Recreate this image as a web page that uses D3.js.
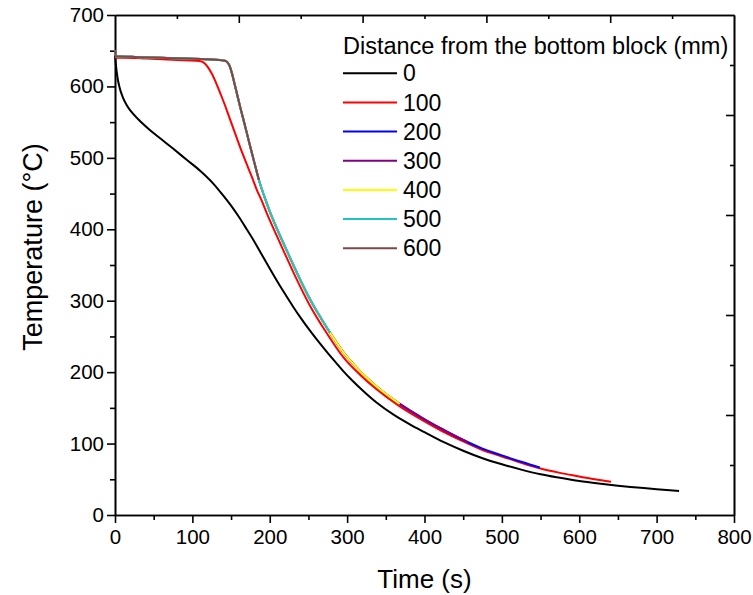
<!DOCTYPE html>
<meta charset="utf-8">
<style>
body { margin: 0; background: #fff; }
svg { font-family: "Liberation Sans", Arial, sans-serif; }
.axis path, .axis line { stroke: #000; stroke-width: 1.6px; }
.axis text { font-size: 20.5px; fill: #000; }
</style>
<svg width="753" height="595"></svg>
<script src="https://d3js.org/d3.v7.min.js"></script>
<script>

// tick labels
var xTicks = [0, 100, 200, 300, 400, 500, 600, 700, 800];
var yTicks = [0, 100, 200, 300, 400, 500, 600, 700];

// series: distance from bottom block (mm)
var seriesNames = ["0", "100", "200", "300", "400", "500", "600"];

// [time (s), temperature (°C)]
var d0 = [[0,645],[1,632],[3,614],[6,598],[10,585],[15,574],[20,566],[30,554],[45,539],[60,526],[75,513],[93,497],[110,482],[127,464],[140,447],[150,433],[160,417.5],[170,400.5],[180,383],[190,364],[200,345],[210,326.5],[220,309],[230,292],[240,276],[252,258],[262,244],[274,228],[285,214],[295,201.5],[306,189],[317,177.5],[338,157.5],[360,140.5],[381,127],[400,116],[425,102],[450,90],[475,79.5],[500,71],[525,63.5],[550,57],[575,52],[600,47.5],[625,44],[650,41],[675,38.5],[700,36],[729,33.5]];

var d100 = [[0,650],[1,640],[10,640],[40,639],[80,637],[105,636],[112,635],[116,632],[120,627],[125,618],[131,604],[137,588],[142,574],[148,556],[155,535],[162,514],[170,492],[177,473],[183,456],[190,439],[196,423],[209,391],[222,360],[233,334],[252,293],[274,254],[295,221],[317,196],[338,176],[368,152],[400,131],[425,116],[450,103],[475,91],[500,82],[525,73],[550,65],[575,59],[600,54],[620,50],[641,46.5]];

var d200 = [[0,650],[1,642],[5,642],[30,641],[60,640],[90,639],[120,638],[142,636],[145,634],[148,629],[151,619],[154,606],[158,588],[163,566],[168,545],[174,519],[180,494],[186,469],[193,446],[200,425],[210,399],[220,375],[230,351],[240,328],[252,302],[262,283],[278,255],[295,228],[317,201],[338,180],[368,155.5],[400,134],[425,119],[450,105],[475,93],[500,83.5],[525,74.5],[549,66.5]];

var d300 = [[0,650],[1,642],[5,642],[30,641],[60,640],[90,639],[120,638],[142,636],[145,634],[148,629],[151,619],[154,606],[158,588],[163,566],[168,545],[174,519],[180,494],[186,469],[193,446],[200,425],[210,399],[220,375],[230,351],[240,328],[252,302],[262,283],[278,255],[295,228],[317,201],[338,180],[368,155.5],[400,134],[425,119],[456,102]];

var d400 = [[0,650],[1,642],[5,642],[30,641],[60,640],[90,639],[120,638],[142,636],[145,634],[148,629],[151,619],[154,606],[158,588],[163,566],[168,545],[174,519],[180,494],[186,469],[193,446],[200,425],[210,399],[220,375],[230,351],[240,328],[252,302],[262,283],[278,255],[295,228],[317,201],[338,180],[368,155.5]];

var d500 = [[0,650],[1,642],[5,642],[30,641],[60,640],[90,639],[120,638],[142,636],[145,634],[148,629],[151,619],[154,606],[158,588],[163,566],[168,545],[174,519],[180,494],[186,469],[193,446],[200,425],[210,399],[220,375],[230,351],[240,328],[252,302],[262,283],[278,255]];

var d600 = [[0,650],[1,642],[5,642],[30,641],[60,640],[90,639],[120,638],[142,636],[145,634],[148,629],[151,619],[154,606],[158,588],[163,566],[168,545],[174,519],[180,494],[186,469]];

var seriesData = [d0, d100, d200, d300, d400, d500, d600];
var colors = ["#000000", "#ff0000", "#0000ff", "#800080", "#ffff00", "#20c4c4", "#7d4848"];

var svg = d3.select("svg"),
    margin = {top: 15, right: 19, bottom: 80, left: 115},
    width = +svg.attr("width") - margin.left - margin.right,
    height = +svg.attr("height") - margin.top - margin.bottom,
    g = svg.append("g").attr("transform", "translate(" + margin.left + "," + margin.top + ")");

var x = d3.scaleLinear().domain([0, 800]).range([0, width]);
var y = d3.scaleLinear().domain([0, 700]).range([height, 0]);

// minor ticks
g.append("g").attr("class", "axis")
    .attr("transform", "translate(0," + height + ")")
    .call(d3.axisBottom(x).tickValues(d3.range(50, 800, 100)).tickSize(5).tickSizeOuter(0).tickFormat(""));
g.append("g").attr("class", "axis")
    .call(d3.axisLeft(y).tickValues(d3.range(50, 700, 100)).tickSize(5).tickSizeOuter(0).tickFormat(""));

// top and right (inward ticks)
g.append("g").attr("class", "axis")
    .call(d3.axisBottom(x).tickValues(d3.range(80, 800, 160)).tickSize(4).tickSizeOuter(0).tickFormat(""));
g.append("g").attr("class", "axis")
    .call(d3.axisBottom(x).tickValues(d3.range(160, 800, 160)).tickSize(8).tickSizeOuter(0).tickFormat(""));
g.append("g").attr("class", "axis")
    .attr("transform", "translate(" + width + ",0)")
    .call(d3.axisLeft(y).tickValues(d3.range(70, 700, 140)).tickSize(4).tickSizeOuter(0).tickFormat(""));
g.append("g").attr("class", "axis")
    .attr("transform", "translate(" + width + ",0)")
    .call(d3.axisLeft(y).tickValues(d3.range(140, 700, 140)).tickSize(8).tickSizeOuter(0).tickFormat(""));

// main axes
g.append("g").attr("class", "axis")
    .attr("transform", "translate(0," + height + ")")
    .call(d3.axisBottom(x).tickValues(xTicks).tickSize(8).tickPadding(6).tickSizeOuter(0));
g.append("g").attr("class", "axis")
    .call(d3.axisLeft(y).tickValues(yTicks).tickSize(8).tickPadding(3).tickSizeOuter(0));

var line = d3.line()
    .x(function(d) { return x(d[0]); })
    .y(function(d) { return y(d[1]); })
    .curve(d3.curveMonotoneX);

g.selectAll(".series")
  .data(seriesData)
  .enter().append("path")
    .attr("class", "series")
    .attr("fill", "none")
    .attr("stroke", function(d, i) { return colors[i]; })
    .attr("stroke-width", 2)
    .attr("d", line);

// axis titles
svg.append("text")
    .attr("x", margin.left + width / 2)
    .attr("y", 588)
    .attr("text-anchor", "middle")
    .attr("font-size", "26px")
    .text("Time (s)");

svg.append("text")
    .attr("transform", "translate(42,247) rotate(-90)")
    .attr("text-anchor", "middle")
    .attr("font-size", "27px")
    .text("Temperature (°C)");

// legend
var legend = svg.append("g").attr("font-size", "23px");
legend.append("text")
    .attr("x", 343).attr("y", 46).attr("dy", "0.35em")
    .attr("font-size", "23.5px")
    .text("Distance from the bottom block (mm)");

var item = legend.selectAll(".item")
  .data(seriesNames)
  .enter().append("g")
    .attr("class", "item")
    .attr("transform", function(d, i) { return "translate(0," + (73.3 + i * 29.15) + ")"; });

item.append("line")
    .attr("x1", 343).attr("x2", 397)
    .attr("stroke", function(d, i) { return colors[i]; })
    .attr("stroke-width", 2);

item.append("text")
    .attr("x", 403).attr("dy", "0.35em")
    .text(function(d) { return d; });

</script>
